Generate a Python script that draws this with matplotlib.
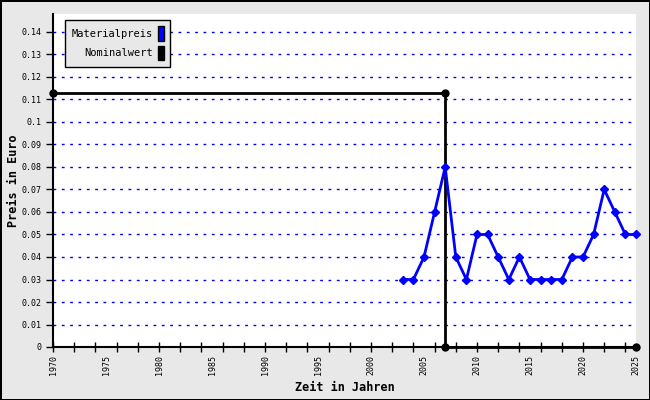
import matplotlib
matplotlib.use("Agg")
import matplotlib.pyplot as plt
from matplotlib.patches import Patch

# Materialpreis (blaue Linie)
jahre = [2003, 2004, 2005, 2006, 2007, 2008, 2009, 2010, 2011, 2012, 2013, 2014,
         2015, 2016, 2017, 2018, 2019, 2020, 2021, 2022, 2023, 2024, 2025]
preis = [0.03, 0.03, 0.04, 0.06, 0.08, 0.04, 0.03, 0.05, 0.05, 0.04, 0.03, 0.04,
         0.03, 0.03, 0.03, 0.03, 0.04, 0.04, 0.05, 0.07, 0.06, 0.05, 0.05]

# Nominalwert (schwarze Stufe)
nom_jahre = [1970, 2007, 2007, 2025]
nom_wert = [0.113, 0.113, 0.0, 0.0]

yticks = [i / 100 for i in range(15)]
ytick_labels = ["%g" % v for v in yticks]
xlabel_jahre = list(range(1970, 2026, 5))
xtick_jahre = list(range(1970, 2026, 2))

plt.rcParams['font.family'] = ['DejaVu Sans Mono']

fig = plt.figure(figsize=(6.5, 4), dpi=100, facecolor='#e8e8e8',
                 edgecolor='black', linewidth=2)
ax = fig.add_axes([53/650, 53/400, (636-53)/650, (347-14)/400])
ax.set_facecolor('white')

for v in yticks[1:]:
    ax.axhline(v, color='blue', linestyle=(0, (2, 4)), linewidth=1, zorder=1)

ax.plot(nom_jahre, nom_wert, color='black', linewidth=2, marker='o',
        markersize=5, zorder=3, clip_on=False)
ax.plot(jahre, preis, color='blue', linewidth=2, marker='D',
        markersize=4.5, zorder=4, clip_on=False)

ax.set_xlim(1970, 2025)
ax.set_ylim(0, 0.148)

ax.set_yticks(yticks)
ax.set_yticklabels(ytick_labels, fontsize=6)
ax.xaxis.remove_overlapping_locs = False
ax.set_xticks(xlabel_jahre)
ax.set_xticklabels([str(j) for j in xlabel_jahre], rotation=90, fontsize=6)
ax.set_xticks(xtick_jahre, minor=True)
ax.tick_params(axis='x', which='minor', direction='inout', length=7, width=1)
ax.tick_params(axis='x', which='major', length=0, pad=6)
ax.tick_params(axis='y', direction='out', length=5, width=1, pad=3)

for s in ['top', 'right']:
    ax.spines[s].set_visible(False)
ax.spines['left'].set_linewidth(1.5)
ax.spines['bottom'].set_linewidth(1.5)

ax.set_xlabel("Zeit in Jahren", fontsize=8.5, fontweight='bold', labelpad=4)
ax.set_ylabel("Preis in Euro", fontsize=8.5, fontweight='bold', labelpad=1)

handles = [Patch(facecolor='blue', edgecolor='black', label='Materialpreis'),
           Patch(facecolor='black', edgecolor='black', label='Nominalwert')]
leg = ax.legend(handles=handles, loc='upper left', bbox_to_anchor=(0.0206, 0.982),
                borderaxespad=0, markerfirst=False, fontsize=7.5, handlelength=0.6,
                handleheight=1.8, handletextpad=0.5, frameon=True, fancybox=False,
                framealpha=1, labelspacing=0.45, borderpad=0.6)
leg.get_frame().set_facecolor('#e8e8e8')
leg.get_frame().set_edgecolor('black')
leg.get_frame().set_linewidth(1)
leg.set_zorder(10)
for t in leg.get_texts():
    t.set_ha('right')

fig.savefig("out.png", dpi=100, facecolor=fig.get_facecolor(), edgecolor=fig.get_edgecolor())
